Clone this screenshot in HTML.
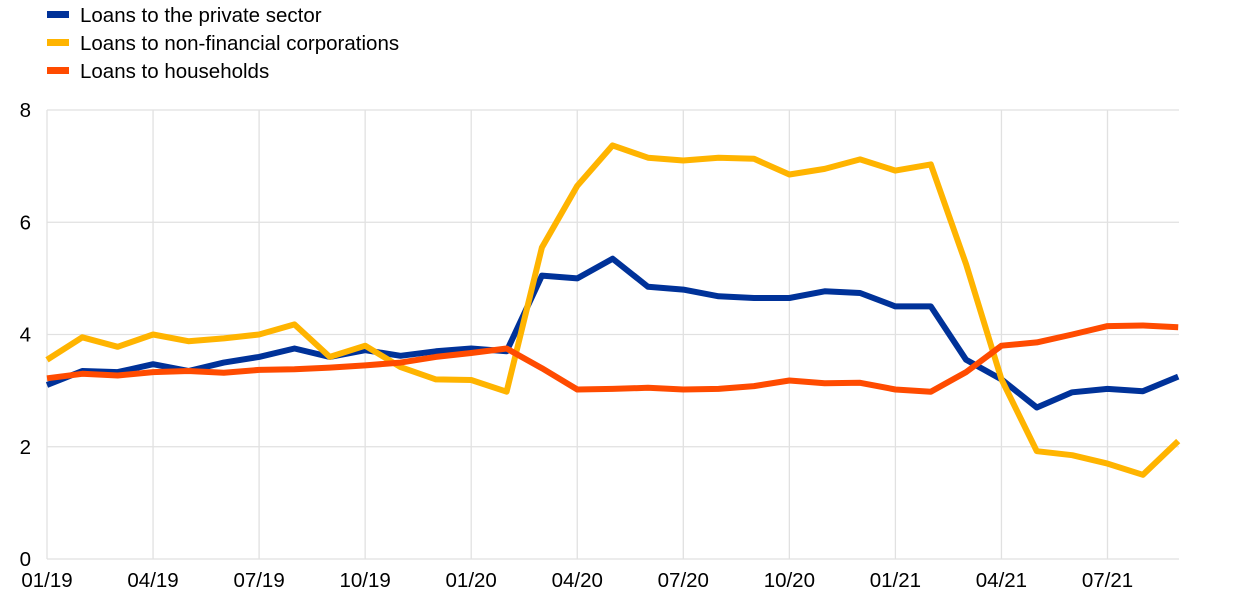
<!DOCTYPE html>
<html><head><meta charset="utf-8"><style>
html,body{margin:0;padding:0;background:#fff;}
svg{display:block;font-family:"Liberation Sans",Arial,sans-serif;}
</style></head><body>
<svg id="c" width="1240" height="601" xmlns="http://www.w3.org/2000/svg">
<g font-size="20.5" fill="#000">
<rect x="47" y="11" width="22" height="7" fill="#003299"/>
<text x="80" y="22">Loans to the private sector</text>
<rect x="47" y="39" width="22" height="7" fill="#ffb400"/>
<text x="80" y="50">Loans to non-financial corporations</text>
<rect x="47" y="67" width="22" height="7" fill="#ff4b00"/>
<text x="80" y="78">Loans to households</text>
</g>
<g id="grid" stroke="#e1e1e1" stroke-width="1.3"></g>
<g id="lbl" font-size="20.5" fill="#000"></g>
<g id="lines" fill="none" stroke-width="6" stroke-linejoin="round" stroke-linecap="butt"></g>
</svg>
<script>
var ns="http://www.w3.org/2000/svg";
function el(t,a,p){var e=document.createElementNS(ns,t);for(var k in a)e.setAttribute(k,a[k]);document.getElementById(p).appendChild(e);return e;}
var x0=47,dx=35.35,y0=559,dy=56.125;
for(var v=0;v<=8;v+=2){var y=y0-v*dy;el('line',{x1:47,x2:1179,y1:y,y2:y},'grid');
var t=el('text',{x:31,y:y+7,'text-anchor':'end'},'lbl');t.textContent=v;}
var labs=['01/19','04/19','07/19','10/19','01/20','04/20','07/20','10/20','01/21','04/21','07/21'];
for(var i=0;i<labs.length;i++){var x=x0+i*3*dx;el('line',{x1:x,x2:x,y1:110,y2:559},'grid');
var t=el('text',{x:x,y:587,'text-anchor':'middle'},'lbl');t.textContent=labs[i];}
var B=[3.1,3.35,3.33,3.47,3.35,3.5,3.6,3.75,3.6,3.72,3.62,3.7,3.75,3.7,5.05,5.0,5.35,4.85,4.8,4.68,4.65,4.65,4.77,4.74,4.5,4.5,3.55,3.2,2.7,2.97,3.03,2.99,3.25];
var Y=[3.55,3.95,3.78,4.0,3.88,3.93,4.0,4.18,3.6,3.8,3.42,3.2,3.19,2.98,5.55,6.65,7.37,7.15,7.1,7.15,7.13,6.85,6.95,7.12,6.92,7.03,5.25,3.2,1.92,1.85,1.7,1.5,2.1];
var O=[3.22,3.3,3.27,3.33,3.35,3.32,3.37,3.38,3.41,3.45,3.5,3.6,3.67,3.75,3.4,3.02,3.03,3.05,3.02,3.03,3.08,3.18,3.13,3.14,3.02,2.98,3.33,3.8,3.86,4.0,4.15,4.16,4.13];
function path(d,c){var s='';for(var i=0;i<d.length;i++){s+=(i?'L':'M')+(x0+i*dx).toFixed(1)+','+(y0-d[i]*dy).toFixed(1);}
el('path',{d:s,stroke:c},'lines');}
path(B,'#003299');path(Y,'#ffb400');path(O,'#ff4b00');
</script>
</body></html>
